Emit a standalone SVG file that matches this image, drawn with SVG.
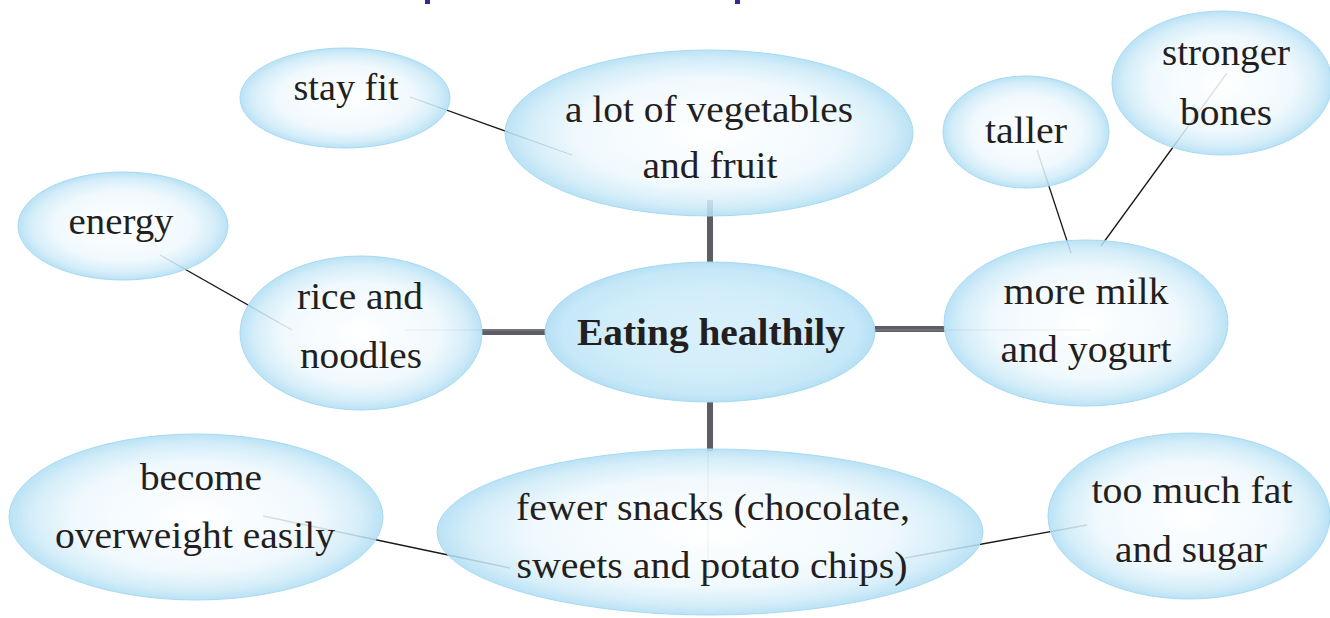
<svg xmlns="http://www.w3.org/2000/svg" width="1330" height="618" viewBox="0 0 1330 618">
  <defs>
    <radialGradient id="bub" cx="0.5" cy="0.5" r="0.5">
      <stop offset="0" stop-color="#ffffff"/>
      <stop offset="0.65" stop-color="#eef8fd"/>
      <stop offset="0.88" stop-color="#cfebf8"/>
      <stop offset="1" stop-color="#b0def4"/>
    </radialGradient>
    <radialGradient id="hub" cx="0.5" cy="0.5" r="0.5">
      <stop offset="0" stop-color="#d6effb"/>
      <stop offset="0.6" stop-color="#cdebf9"/>
      <stop offset="0.9" stop-color="#bfe5f7"/>
      <stop offset="1" stop-color="#aedcf3"/>
    </radialGradient>
  </defs>
  <style>
    .b { fill: url(#bub); fill-opacity: 0.87; stroke: #a8daf1; stroke-width: 1; }
    .h { fill: url(#hub); fill-opacity: 0.9; stroke: #a8daf1; stroke-width: 1; }
    .t { font-size: 37px; fill: #231f20; text-anchor: middle; }
    .tb { font-weight: bold; }
    .thin { stroke: #1a1a1a; stroke-width: 1.3; fill: none; }
    .thick { stroke: #5d5d63; stroke-width: 6; fill: none; }
    .faint { stroke: #7a8a94; stroke-width: 1; fill: none; }
  </style>
  <rect width="1330" height="618" fill="#ffffff"/>
  <rect x="425" y="0" width="5" height="4" fill="#2e2f8c"/>
  <rect x="735" y="0" width="5" height="4" fill="#2e2f8c"/>

  <g id="connectors">
    <line class="thick" x1="710" y1="200" x2="710" y2="263"/>
    <line class="thick" x1="482" y1="332" x2="546" y2="332"/>
    <line class="thick" x1="874" y1="329" x2="945" y2="329"/>
    <line class="thick" x1="710" y1="402" x2="710" y2="451"/>
    <line class="faint" x1="405" y1="330" x2="546" y2="330"/>
    <line class="faint" x1="874" y1="330" x2="1090" y2="330"/>
    <line class="faint" x1="708" y1="451" x2="708" y2="580"/>
    <line class="thin" x1="410" y1="97" x2="572" y2="155"/>
    <line class="thin" x1="160" y1="255" x2="292" y2="330"/>
    <line class="thin" x1="1037" y1="150" x2="1071" y2="253"/>
    <line class="thin" x1="1227" y1="73" x2="1101" y2="246"/>
    <line class="thin" x1="263" y1="516" x2="510" y2="568"/>
    <line class="thin" x1="1087" y1="525" x2="905" y2="558"/>
  </g>

  <g font-family="'Liberation Serif', 'Times New Roman', Tinos, 'DejaVu Serif', serif">
  <g id="node-stay-fit">
    <ellipse class="b" cx="345" cy="98" rx="105" ry="50"/>
    <text class="t" x="346" y="100" textLength="105" lengthAdjust="spacingAndGlyphs">stay fit</text>
  </g>
  <g id="node-vegetables">
    <ellipse class="b" cx="709" cy="133" rx="204" ry="83"/>
    <text class="t" x="709" y="122" textLength="288" lengthAdjust="spacingAndGlyphs">a lot of vegetables</text>
    <text class="t" x="710" y="178" textLength="135" lengthAdjust="spacingAndGlyphs">and fruit</text>
  </g>
  <g id="node-energy">
    <ellipse class="b" cx="123" cy="226" rx="105" ry="54"/>
    <text class="t" x="121" y="234" textLength="105" lengthAdjust="spacingAndGlyphs">energy</text>
  </g>
  <g id="node-rice">
    <ellipse class="b" cx="361" cy="333" rx="121" ry="77"/>
    <text class="t" x="360" y="309" textLength="126" lengthAdjust="spacingAndGlyphs">rice and</text>
    <text class="t" x="361" y="368" textLength="122" lengthAdjust="spacingAndGlyphs">noodles</text>
  </g>
  <g id="node-center">
    <ellipse class="h" cx="710" cy="332" rx="165" ry="70"/>
    <text class="t tb" x="711" y="345" textLength="268" lengthAdjust="spacingAndGlyphs">Eating healthily</text>
  </g>
  <g id="node-taller">
    <ellipse class="b" cx="1026" cy="132" rx="83" ry="56"/>
    <text class="t" x="1026" y="143" textLength="82" lengthAdjust="spacingAndGlyphs">taller</text>
  </g>
  <g id="node-bones">
    <ellipse class="b" cx="1222" cy="83" rx="110" ry="72"/>
    <text class="t" x="1226" y="65" textLength="128" lengthAdjust="spacingAndGlyphs">stronger</text>
    <text class="t" x="1226" y="125" textLength="92" lengthAdjust="spacingAndGlyphs">bones</text>
  </g>
  <g id="node-milk">
    <ellipse class="b" cx="1086" cy="323" rx="142" ry="83"/>
    <text class="t" x="1086" y="304" textLength="165" lengthAdjust="spacingAndGlyphs">more milk</text>
    <text class="t" x="1086" y="362" textLength="171" lengthAdjust="spacingAndGlyphs">and yogurt</text>
  </g>
  <g id="node-snacks">
    <ellipse class="b" cx="710" cy="532" rx="273" ry="83"/>
    <text class="t" x="713" y="520" textLength="394" lengthAdjust="spacingAndGlyphs">fewer snacks (chocolate,</text>
    <text class="t" x="712" y="578" textLength="391" lengthAdjust="spacingAndGlyphs">sweets and potato chips)</text>
  </g>
  <g id="node-overweight">
    <ellipse class="b" cx="196" cy="517" rx="187" ry="83"/>
    <text class="t" x="201" y="490" textLength="122" lengthAdjust="spacingAndGlyphs">become</text>
    <text class="t" x="195" y="548" textLength="280" lengthAdjust="spacingAndGlyphs">overweight easily</text>
  </g>
  <g id="node-fat">
    <ellipse class="b" cx="1189" cy="516" rx="141" ry="83"/>
    <text class="t" x="1192" y="503" textLength="201" lengthAdjust="spacingAndGlyphs">too much fat</text>
    <text class="t" x="1191" y="562" textLength="152" lengthAdjust="spacingAndGlyphs">and sugar</text>
  </g>
  </g>
</svg>
